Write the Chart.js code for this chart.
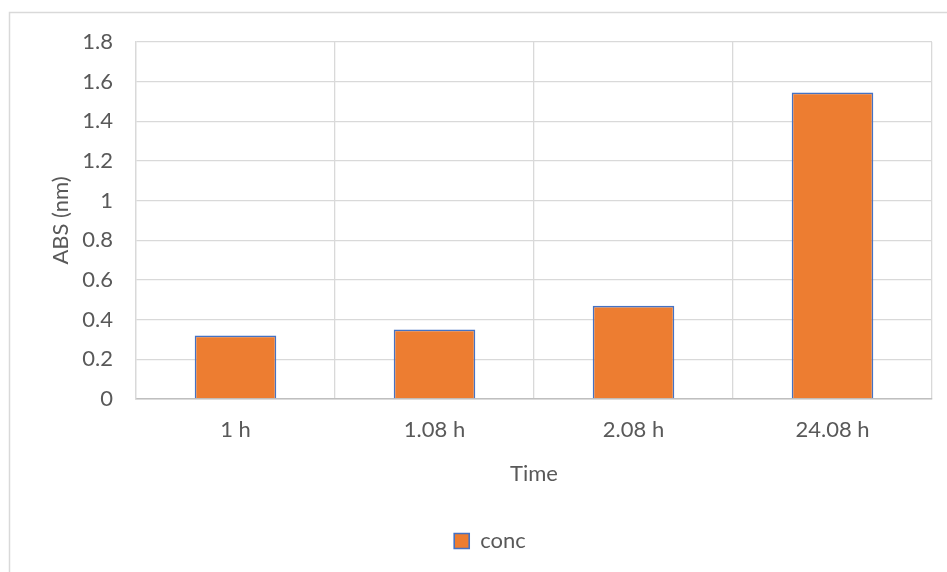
<!DOCTYPE html>
<html>
<head>
<meta charset="utf-8">
<script src="https://cdn.jsdelivr.net/npm/chart.js@4.4.1/dist/chart.umd.min.js"></script>
<style>
  html, body { margin: 0; padding: 0; background: #ffffff; }
  #wrap { width: 947px; height: 572px; position: relative; }
</style>
</head>
<body>
<div id="wrap"><canvas id="chart" width="947" height="572"></canvas></div>
<script>
// Sampling times and measured absorbance
const categories = ['1 h', '1.08 h', '2.08 h', '24.08 h'];
const concValues = [0.32, 0.35, 0.47, 1.545];
const yTicks = [0, 0.2, 0.4, 0.6, 0.8, 1, 1.2, 1.4, 1.6, 1.8];

const TEXT = '#595959';
const GRID = '#d9d9d9';
const FONT = 'Lato, "Liberation Sans", sans-serif';
const SIZE = 22;

// Light frame around the whole chart
const framePlugin = {
  id: 'frame',
  beforeDraw(chart) {
    const ctx = chart.ctx;
    ctx.save();
    ctx.fillStyle = '#ffffff';
    ctx.fillRect(0, 0, chart.width, chart.height);
    ctx.strokeStyle = GRID;
    ctx.lineWidth = 1.5;
    ctx.strokeRect(9.5, 12.5, chart.width + 20, chart.height + 20);
    ctx.restore();
  }
};

new Chart(document.getElementById('chart'), {
  type: 'bar',
  data: {
    labels: categories,
    datasets: [{
      label: 'conc',
      data: concValues,
      backgroundColor: '#ed7d31',
      borderColor: '#4472c4',
      borderWidth: 1.6,
      categoryPercentage: 1,
      barPercentage: 0.41
    }]
  },
  options: {
    responsive: false,
    animation: false,
    devicePixelRatio: 1,
    layout: { padding: { top: 42, right: 15, bottom: 10, left: 48 } },
    plugins: {
      legend: {
        position: 'bottom',
        labels: {
          color: TEXT,
          font: { family: FONT, size: SIZE },
          boxWidth: 15,
          boxHeight: 15,
          padding: 10
        }
      },
      tooltip: { enabled: false }
    },
    scales: {
      x: {
        grid: { color: GRID, lineWidth: 1.3, offset: true, drawTicks: false },
        border: { color: '#bfbfbf', width: 1.5 },
        ticks: { color: TEXT, font: { family: FONT, size: SIZE }, padding: 18 },
        title: {
          display: true,
          text: 'Time',
          color: TEXT,
          font: { family: FONT, size: SIZE },
          padding: { top: 0, bottom: 33 }
        },
        afterFit(scale) { scale.height = 121; }
      },
      y: {
        min: 0,
        max: 1.8,
        afterBuildTicks(scale) { scale.ticks = yTicks.map(v => ({ value: v })); },
        grid: { color: GRID, lineWidth: 1.3, drawTicks: false },
        border: { color: GRID, width: 1.3 },
        ticks: {
          color: TEXT,
          font: { family: FONT, size: SIZE },
          padding: 23,
          callback: v => String(+Number(v).toFixed(1))
        },
        title: {
          display: true,
          text: 'ABS (nm)',
          color: TEXT,
          font: { family: FONT, size: SIZE },
          padding: { top: 0, bottom: 0 }
        },
        afterFit(scale) { scale.width = 88; }
      }
    }
  },
  plugins: [framePlugin]
});
</script>
</body>
</html>
